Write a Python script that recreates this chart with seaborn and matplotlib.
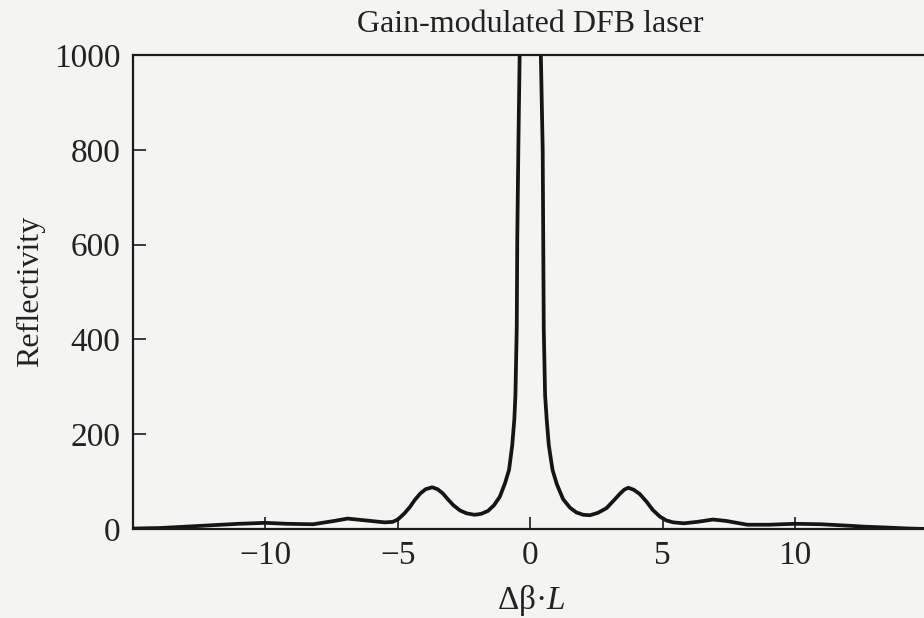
import matplotlib
matplotlib.use("Agg")
import matplotlib.pyplot as plt
import seaborn as sns
import pandas as pd

# Curve (delta-beta*L, reflectivity)
x_left = [-15.0, -14.0, -13.0, -12.0, -11.0, -10.0, -9.2, -8.2, -7.4, -6.9, -6.2,
          -5.5, -5.2, -5.0, -4.75, -4.55, -4.35, -4.15, -3.95, -3.7, -3.5, -3.3,
          -3.1, -2.9, -2.65, -2.4, -2.1, -1.85, -1.6, -1.37, -1.15, -0.95, -0.80,
          -0.68, -0.60, -0.56, -0.51, -0.49, -0.45, -0.40, 0.0]
y_left = [1, 2, 5, 8, 11, 13, 11, 10, 17, 22, 18,
          14, 15, 20, 33, 46, 62, 75, 84, 88, 84, 75,
          62, 50, 39, 33, 30, 32, 38, 50, 68, 97, 125,
          177, 232, 283, 423, 613, 800, 1000, 3000]
x_right = [0.40, 0.47, 0.49, 0.51, 0.56, 0.62, 0.70, 0.84, 1.0, 1.24, 1.5, 1.74,
           2.0, 2.25, 2.55, 2.88, 3.15, 3.38, 3.55, 3.7, 3.9, 4.13, 4.4, 4.63,
           4.9, 5.14, 5.4, 5.8, 6.3, 6.9, 7.4, 7.8, 8.2, 9.0, 10.0, 11.0, 12.0,
           12.6, 13.5, 14.3, 15.0]
y_right = [1000, 800, 613, 423, 283, 232, 177, 125, 95, 63, 45, 35,
           30, 29, 34, 44, 60, 74, 83, 87, 83, 74, 57, 40,
           26, 18, 14, 12, 15, 20, 17, 13, 9, 9, 11, 10, 7,
           5, 3, 1, 0]

x_ticks = [-10, -5, 0, 5, 10]
y_ticks = [0, 200, 400, 600, 800, 1000]

title = "Gain-modulated DFB laser"
xlabel = "Δβ·$L$"
ylabel = "Reflectivity"

df = pd.DataFrame({"x": x_left + x_right, "y": y_left + y_right})

sns.set_theme(style="ticks")
bg = "#f4f4f2"
plt.rcParams["font.family"] = ["Liberation Serif", "DejaVu Serif"]
plt.rcParams["mathtext.fontset"] = "custom"
plt.rcParams["mathtext.it"] = "Liberation Serif:italic"
plt.rcParams["mathtext.rm"] = "Liberation Serif"

fig = plt.figure(figsize=(9.24, 6.18), dpi=100, facecolor=bg)
ax = fig.add_axes([133 / 924, 89 / 618, 794.5 / 924, 474 / 618])
ax.set_facecolor(bg)

sns.lineplot(data=df, x="x", y="y", ax=ax, color="#151515", lw=2.7,
             estimator=None, sort=False)
for line in ax.lines:
    line.set_solid_joinstyle("round")
    line.set_solid_capstyle("round")

ax.set_xlim(-15, 15)
ax.set_ylim(0, 1000)
ax.set_xticks(x_ticks)
ax.set_yticks(y_ticks)
ax.set_xlabel("")
ax.set_ylabel("")
ax.tick_params(direction="in", length=9, width=1.2, colors="#1a1a1a",
               labelsize=24, labelcolor="#222222")
ax.tick_params(axis="x", pad=8)
ax.tick_params(axis="y", pad=9)
for s in ["left", "bottom", "top"]:
    ax.spines[s].set_linewidth(1.6)
    ax.spines[s].set_color("#1a1a1a")
ax.spines["right"].set_visible(False)

fig.text(530 / 924, 1 - 25 / 618, title, ha="center", va="center",
         fontsize=23, color="#222222")
fig.text(31 / 924, 1 - 291 / 618, ylabel, ha="center", va="center",
         rotation=90, fontsize=23, color="#222222")
fig.text(531 / 924, 1 - 601 / 618, xlabel, ha="center", va="center",
         fontsize=24, color="#222222")

fig.savefig("out.png", dpi=100, facecolor=bg)
